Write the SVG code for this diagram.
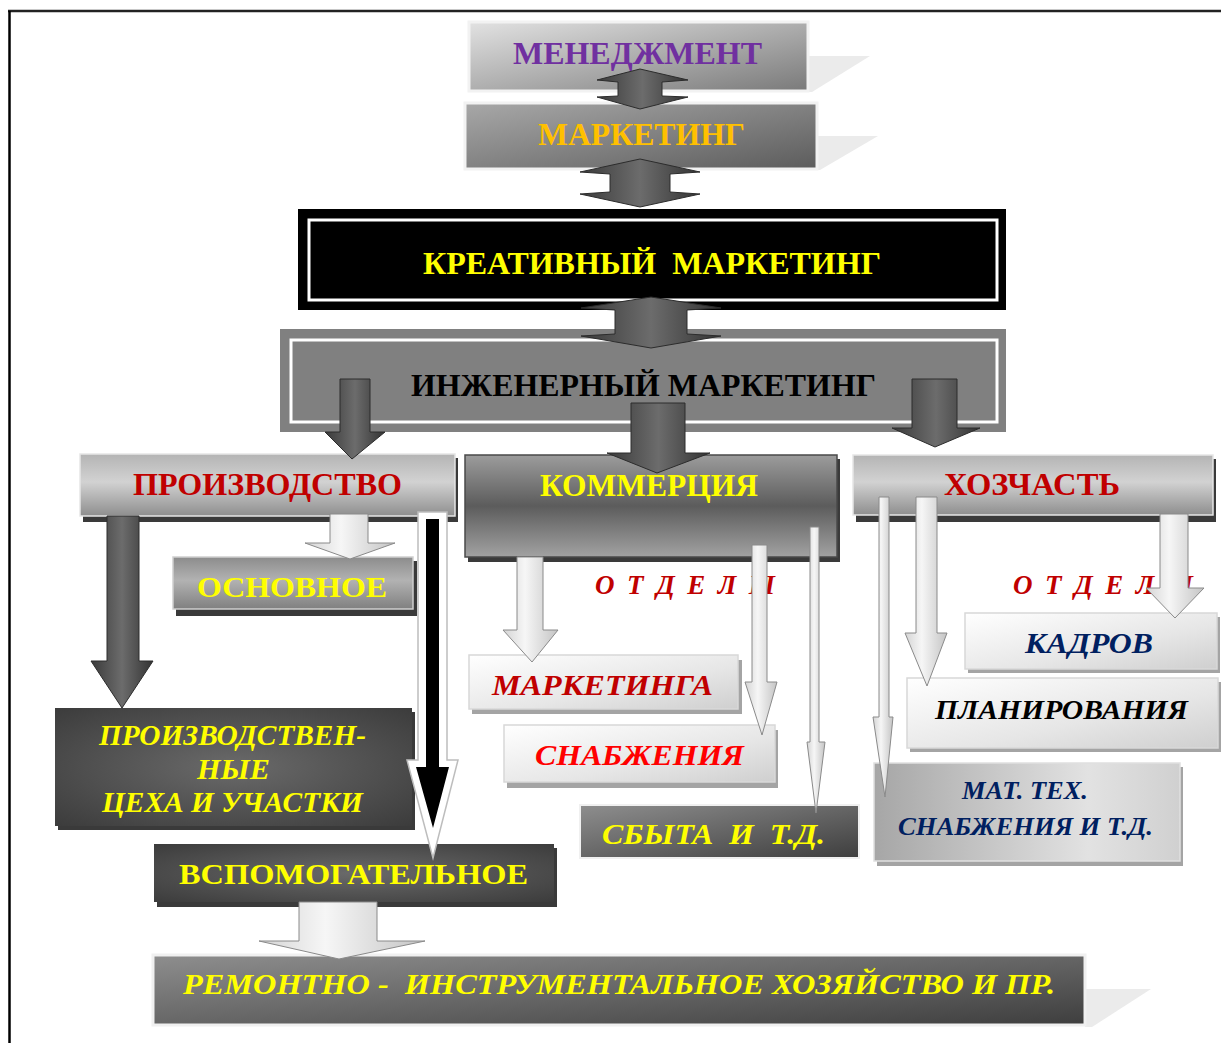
<svg xmlns="http://www.w3.org/2000/svg" width="1221" height="1043" viewBox="0 0 1221 1043">
<defs>
<linearGradient id="gTop" x1="0" y1="0" x2="1" y2="1"><stop offset="0" stop-color="#e2e2e2"/><stop offset="1" stop-color="#7a7a7a"/></linearGradient>
<linearGradient id="gTop2" x1="0" y1="0" x2="1" y2="1"><stop offset="0" stop-color="#a8a8a8"/><stop offset="1" stop-color="#5c5c5c"/></linearGradient>
<linearGradient id="gMid" x1="0" y1="0" x2="0" y2="1"><stop offset="0" stop-color="#b4b4b4"/><stop offset="0.45" stop-color="#d2d2d2"/><stop offset="1" stop-color="#8e8e8e"/></linearGradient>
<linearGradient id="gOsn" x1="0" y1="0" x2="0" y2="1"><stop offset="0" stop-color="#8c8c8c"/><stop offset="0.45" stop-color="#b2b2b2"/><stop offset="1" stop-color="#808080"/></linearGradient>
<linearGradient id="gCom" x1="0" y1="0" x2="0" y2="1"><stop offset="0" stop-color="#9c9c9c"/><stop offset="0.5" stop-color="#5c5c5c"/><stop offset="1" stop-color="#a2a2a2"/></linearGradient>
<radialGradient id="gDark" cx="0.5" cy="0.5" r="0.7"><stop offset="0" stop-color="#6a6a6a"/><stop offset="1" stop-color="#3c3c3c"/></radialGradient>
<linearGradient id="gDark2" x1="0" y1="0" x2="1" y2="1"><stop offset="0" stop-color="#8e8e8e"/><stop offset="1" stop-color="#3e3e3e"/></linearGradient>
<linearGradient id="gWhite" x1="0" y1="0" x2="1" y2="1"><stop offset="0" stop-color="#ffffff"/><stop offset="0.6" stop-color="#e6e6e6"/><stop offset="1" stop-color="#cfcfcf"/></linearGradient>
<linearGradient id="gMat" x1="0" y1="0" x2="1" y2="0"><stop offset="0" stop-color="#a6a6a6"/><stop offset="0.7" stop-color="#e2e2e2"/><stop offset="1" stop-color="#d0d0d0"/></linearGradient>
<linearGradient id="gArrD" x1="0" y1="0" x2="1" y2="0"><stop offset="0" stop-color="#3a3a3a"/><stop offset="0.5" stop-color="#6c6c6c"/><stop offset="1" stop-color="#333333"/></linearGradient>
<linearGradient id="gArrL" x1="0" y1="0" x2="1" y2="0"><stop offset="0" stop-color="#d4d4d4"/><stop offset="0.4" stop-color="#f6f6f6"/><stop offset="1" stop-color="#c4c4c4"/></linearGradient>
<style>
.t{font-family:"Liberation Serif","Times New Roman",serif;font-weight:bold;text-anchor:start}
.i{font-style:italic}
.y{fill:#ffff00}
.r{fill:#c00000}
.n{fill:#002060}
.ad{fill:url(#gArrD);stroke:#2c2c2c;stroke-width:1}
.al{fill:url(#gArrL);stroke:#8a8a8a;stroke-width:1}
.sd{fill:#3a3a3a}
.sl{fill:#a4a4a4}
.ps{fill:#ebebeb}
</style>
</defs>
<rect width="1221" height="1043" fill="#ffffff"/>
<line x1="8" y1="11" x2="1221" y2="11" stroke="#222" stroke-width="2.5"/>
<line x1="9.5" y1="11" x2="9.5" y2="1043" stroke="#000" stroke-width="2.5"/>

<g id="n-menedzhment">
<polygon class="ps" points="807,56 870,56 812,92 807,92"/>
<rect x="469" y="22" width="339" height="69" fill="url(#gTop)" stroke="#f2f2f2" stroke-width="3"/>
<text class="t" x="513" y="64" font-size="31" fill="#7030a0" textLength="249" lengthAdjust="spacingAndGlyphs">МЕНЕДЖМЕНТ</text>
</g>
<g id="n-marketing">
<polygon class="ps" points="816,136 878,136 820,170 816,170"/>
<rect x="465" y="103" width="352" height="66" fill="url(#gTop2)" stroke="#f2f2f2" stroke-width="3"/>
<text class="t" x="538" y="145" font-size="31" fill="#ffc000" textLength="207" lengthAdjust="spacingAndGlyphs">МАРКЕТИНГ</text>
</g>
<g id="n-creative">
<rect x="298" y="209" width="708" height="101" fill="#000"/>
<rect x="309" y="220" width="688" height="80" fill="#000" stroke="#fff" stroke-width="3"/>
<text class="t y" x="423" y="274" font-size="31" textLength="458" lengthAdjust="spacingAndGlyphs" style="white-space:pre">КРЕАТИВНЫЙ  МАРКЕТИНГ</text>
</g>
<g id="n-engineering">
<rect x="280" y="329" width="726" height="103" fill="#808080"/>
<rect x="291" y="340" width="706" height="82" fill="#808080" stroke="#fff" stroke-width="3"/>
<text class="t" x="411" y="396" font-size="31" fill="#000" textLength="465" lengthAdjust="spacingAndGlyphs">ИНЖЕНЕРНЫЙ МАРКЕТИНГ</text>
</g>
<g id="n-production">
<rect class="sd" x="83" y="458" width="375" height="64" fill="#505050"/>
<rect x="80" y="454" width="375" height="62" fill="url(#gMid)" stroke="#e6e6e6" stroke-width="1.5"/>
<text class="t r" x="133" y="495" font-size="31" textLength="269" lengthAdjust="spacingAndGlyphs">ПРОИЗВОДСТВО</text>
</g>
<g id="n-commerce">
<rect class="sd" x="468" y="459" width="372" height="103"/>
<rect x="465" y="455" width="372" height="102" fill="url(#gCom)" stroke="#4a4a4a" stroke-width="1.5"/>
<text class="t y" x="540" y="496" font-size="31" textLength="218" lengthAdjust="spacingAndGlyphs">КОММЕРЦИЯ</text>
</g>
<g id="n-hozchast">
<rect class="sd" x="856" y="459" width="360" height="63" fill="#505050"/>
<rect x="853" y="455" width="360" height="60" fill="url(#gMid)" stroke="#e6e6e6" stroke-width="1.5"/>
<text class="t r" x="944" y="495" font-size="31" textLength="176" lengthAdjust="spacingAndGlyphs">ХОЗЧАСТЬ</text>
</g>
<g id="n-osnovnoe">
<rect class="sd" x="176" y="561" width="241" height="55"/>
<rect x="173" y="557" width="240" height="52" fill="url(#gOsn)" stroke="#cfcfcf" stroke-width="1.5"/>
<text class="t y" x="197" y="597" font-size="30" textLength="190" lengthAdjust="spacingAndGlyphs">ОСНОВНОЕ</text>
</g>
<g id="n-tseha">
<rect class="sd" x="58" y="712" width="357" height="118"/>
<rect x="55" y="708" width="357" height="118" fill="url(#gDark)"/>
<text class="t i y" x="99" y="745" font-size="29" textLength="267" lengthAdjust="spacingAndGlyphs">ПРОИЗВОДСТВЕН-</text>
<text class="t i y" x="197" y="779" font-size="29" textLength="73" lengthAdjust="spacingAndGlyphs">НЫЕ</text>
<text class="t i y" x="102" y="812" font-size="29" textLength="261" lengthAdjust="spacingAndGlyphs">ЦЕХА И УЧАСТКИ</text>
</g>
<g id="n-vspomogatelnoe">
<rect class="sd" x="157" y="848" width="400" height="59"/>
<rect x="154" y="844" width="400" height="58" fill="url(#gDark)"/>
<text class="t y" x="179" y="884" font-size="30" textLength="349" lengthAdjust="spacingAndGlyphs">ВСПОМОГАТЕЛЬНОЕ</text>
</g>
<g id="n-remont">
<polygon class="ps" points="1085,989 1151,989 1092,1027 1085,1027"/>
<rect x="153" y="955" width="932" height="70" fill="url(#gDark2)" stroke="#f0f0f0" stroke-width="3"/>
<text class="t i y" x="183" y="994" font-size="30" textLength="872" lengthAdjust="spacingAndGlyphs" style="white-space:pre">РЕМОНТНО -  ИНСТРУМЕНТАЛЬНОЕ ХОЗЯЙСТВО И ПР.</text>
</g>
<g id="n-otdely-com">
<text class="t i r" x="595" y="594" font-size="27" textLength="180" lengthAdjust="spacing">О Т Д Е Л Ы</text>
</g>
<g id="n-otdely-hoz">
<text class="t i r" x="1013" y="594" font-size="27" textLength="180" lengthAdjust="spacing">О Т Д Е Л Ы</text>
</g>
<g id="n-marketinga">
<rect class="sl" x="472" y="660" width="270" height="54"/>
<rect x="469" y="655" width="269" height="54" fill="url(#gWhite)" stroke="#d8d8d8" stroke-width="1.5"/>
<text class="t i r" x="492" y="695" font-size="30" textLength="221" lengthAdjust="spacingAndGlyphs">МАРКЕТИНГА</text>
</g>
<g id="n-snabzheniya">
<rect class="sl" x="507" y="730" width="271" height="58"/>
<rect x="504" y="725" width="271" height="57" fill="url(#gWhite)" stroke="#d8d8d8" stroke-width="1.5"/>
<text class="t i" x="535" y="765" font-size="30" fill="#ff0000" textLength="209" lengthAdjust="spacingAndGlyphs">СНАБЖЕНИЯ</text>
</g>
<g id="n-sbyta">
<rect x="580" y="805" width="279" height="53" fill="url(#gDark2)" stroke="#f0f0f0" stroke-width="2"/>
<text class="t i y" x="602" y="844" font-size="29" textLength="223" lengthAdjust="spacingAndGlyphs" style="white-space:pre">СБЫТА  И  Т.Д.</text>
</g>
<g id="n-kadrov">
<rect class="sl" x="968" y="617" width="252" height="56"/>
<rect x="965" y="613" width="252" height="56" fill="url(#gWhite)" stroke="#d8d8d8" stroke-width="1.5"/>
<text class="t i n" x="1025" y="653" font-size="30" textLength="128" lengthAdjust="spacingAndGlyphs">КАДРОВ</text>
</g>
<g id="n-planirovaniya">
<rect class="sl" x="910" y="682" width="311" height="70"/>
<rect x="907" y="678" width="311" height="70" fill="url(#gWhite)" stroke="#d8d8d8" stroke-width="1.5"/>
<text class="t i" x="935" y="719" font-size="28" fill="#000" textLength="253" lengthAdjust="spacingAndGlyphs">ПЛАНИРОВАНИЯ</text>
</g>
<g id="n-mattech">
<rect class="sl" x="877" y="767" width="306" height="99"/>
<rect x="874" y="763" width="306" height="98" fill="url(#gMat)" stroke="#e0e0e0" stroke-width="1.5"/>
<text class="t i n" x="962" y="799" font-size="25" textLength="126" lengthAdjust="spacingAndGlyphs">МАТ. ТЕХ.</text>
<text class="t i n" x="898" y="835" font-size="25" textLength="255" lengthAdjust="spacingAndGlyphs">СНАБЖЕНИЯ И Т.Д.</text>
</g>

<g id="connectors">
<polygon class="ad" points="640,69 688,80 662,82 662,96 688,97 640,109 597,97 618,96 618,82 597,80"/>
<polygon class="ad" points="640,159 700,172 670,174 670,192 700,194 640,207 580,194 610,192 610,174 580,172"/>
<polygon class="ad" points="651,297 721,308 687,310 687,334 721,336 651,348 581,336 615,334 615,310 581,308"/>
<polygon class="ad" points="340,379 370,379 370,432 385,432 352,459 325,432 340,432"/>
<polygon class="ad" points="631,403 685,403 685,453 710,453 657,473 607,453 631,453"/>
<polygon class="ad" points="912,379 957,379 957,428 980,428 935,447 892,428 912,428"/>
<polygon class="al" points="330,514 368,514 368,543 395,543 350,559 305,543 330,543"/>
<polygon class="ad" points="107,516 139,516 139,661 153,661 122,708 91,661 107,661"/>
<polygon fill="#ffffff" stroke="#bdbdbd" stroke-width="1.5" points="418,512 447,512 447,760 458,760 433,858 407,760 418,760"/>
<polygon fill="#000000" points="426,519 439,519 439,767 449,767 433,828 416,767 426,767"/>
<polygon class="al" points="517,557 543,557 543,630 558,630 532,662 503,630 517,630"/>
<polygon class="al" points="752,545 767,545 767,682 777,682 762,735 745,682 752,682"/>
<polygon class="al" points="810,527 819,527 819,742 825,742 816,813 807,742 810,742"/>
<polygon class="al" points="879,497 889,497 889,717 893,717 885,797 873,717 879,717"/>
<polygon class="al" points="916,497 937,497 937,633 947,633 927,686 905,633 916,633"/>
<polygon class="al" points="1160,514 1188,514 1188,588 1204,588 1175,618 1146,588 1160,588"/>
<polygon class="al" points="299,902 377,902 377,941 425,941 339,959 259,941 299,941"/>
</g>
</svg>
